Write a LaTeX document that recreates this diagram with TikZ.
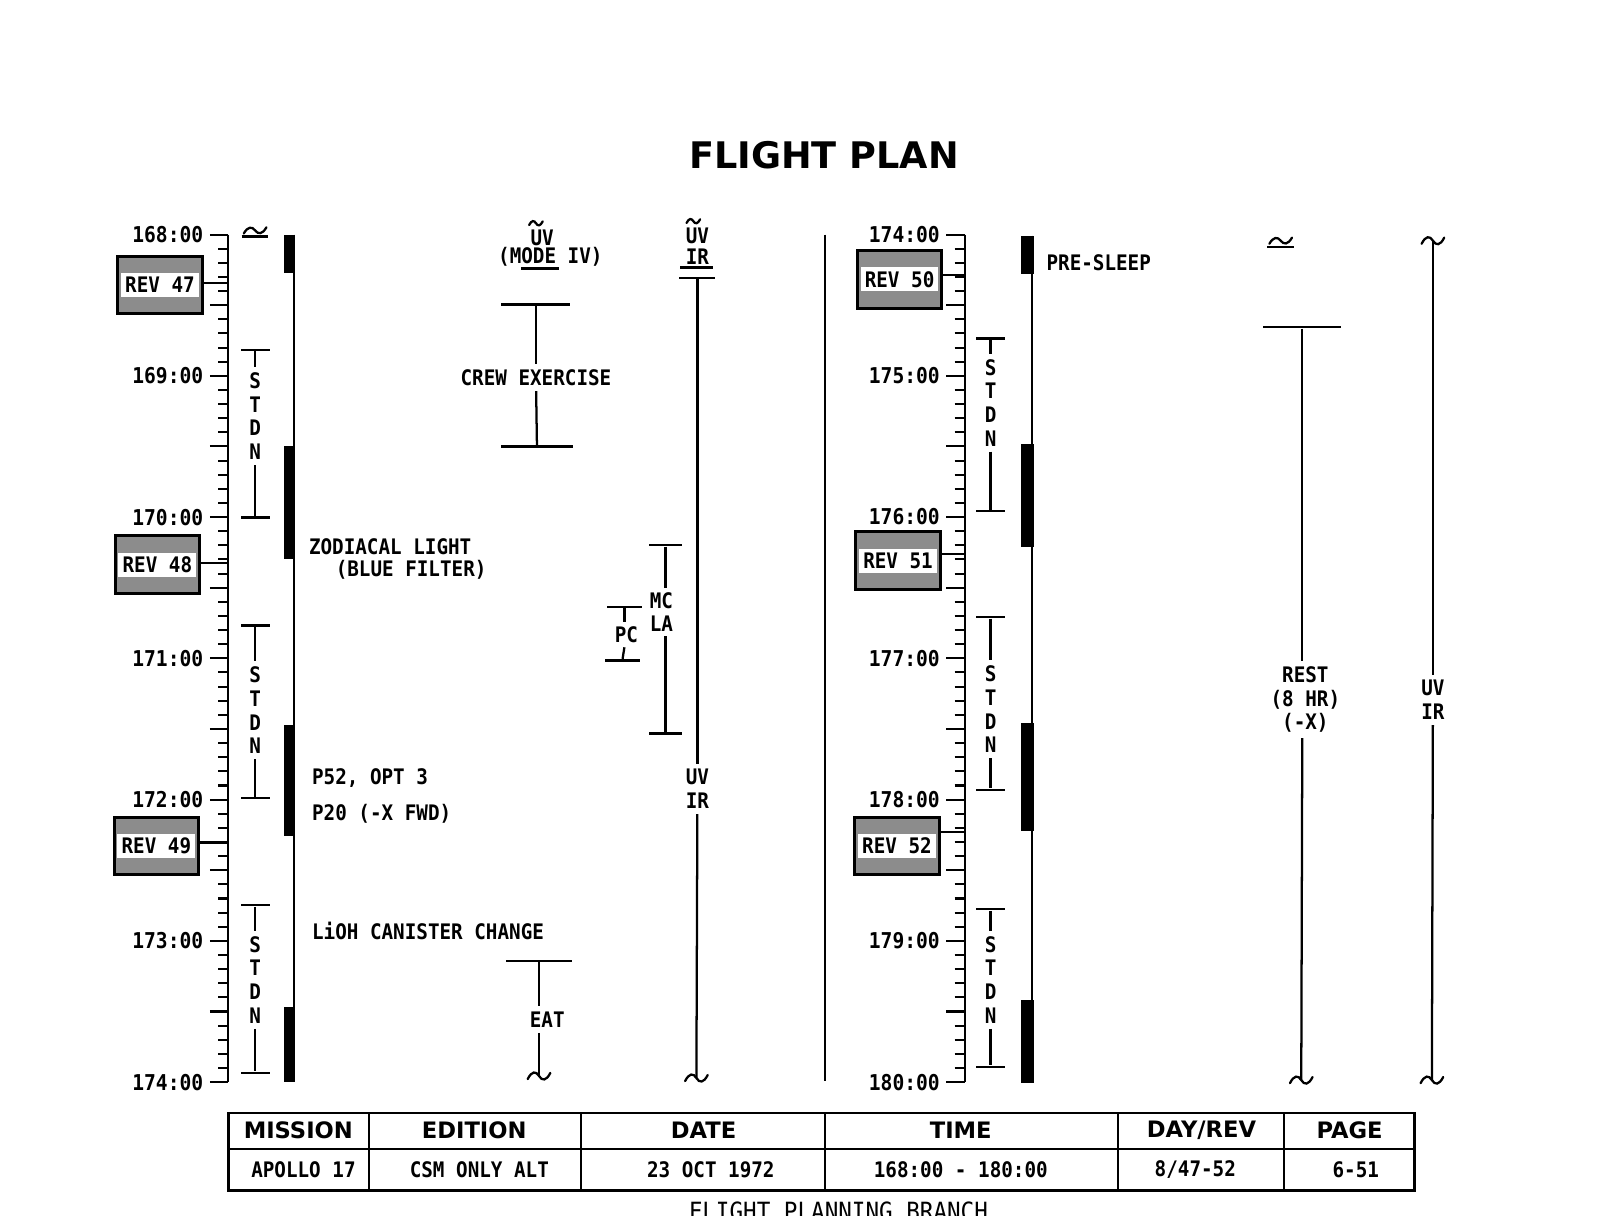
\documentclass[tikz,border=0pt]{standalone}
\usepackage{fontspec}
\setmonofont{DejaVu Sans Mono}[FakeStretch=0.9]
\newfontfamily\headfont{DejaVu Sans}
\setlength{\fboxsep}{2pt}

\tikzset{
  squig/.pic={\draw[line width=1.1pt,line cap=round]
    (-11,3) .. controls (-7,-5) and (-3,-5) .. (0,0) .. controls (3,5) and (7,5) .. (11,-3);},
  startmark/.pic={\draw[line width=1.1pt,line cap=round]
    (-11,1) .. controls (-7,-6) and (-3,-6) .. (0,-2) .. controls (3,2) and (7,2) .. (11,-5);
    \draw[line width=1.1pt] (-13,4) -- (13,4);}
}

\begin{document}
\begin{tikzpicture}[x=0.5pt,y=-0.5pt,
  every node/.style={font=\ttfamily\bfseries\fontsize{10.4}{11.5}\selectfont,inner sep=1pt},
  every edge/.append style={line width=1.1pt},
  axis/.style={line width=1pt},
  hour/.style={anchor=east,font=\ttfamily\bfseries\fontsize{10.6}{11.5}\selectfont},
  revbox/.style={draw,line width=1.5pt,fill=black!45,minimum width=41pt,minimum height=28pt,inner sep=0pt},
  endbar/.style={fill=black,minimum width=#1,minimum height=1.1pt,inner sep=0pt},
  stdn/.style={align=center,inner sep=2.5pt},
  act/.style={align=center,inner sep=2.5pt},
  note/.style={anchor=west},
  head/.style={font=\headfont\bfseries\fontsize{11}{13}\selectfont}]

  \useasboundingbox (0,0) rectangle (1570,1182);
  \clip (0,0) rectangle (1570,1182);
  \fill[white] (0,0) rectangle (1570,1182);

  \node[font=\headfont\bfseries\fontsize{17.8}{20}\selectfont] (title) at (801,151) {FLIGHT PLAN};

  % time scales, a tick every 6 min
  \foreach \ax in {222,938} {
    \draw[axis] (\ax,228) -- (\ax,1052);
    \foreach \k in {0,...,60}
      \draw[axis] (\ax-10,228+\k*13.733) -- (\ax,228+\k*13.733);
    \foreach \k in {0,5,...,60}
      \draw[axis] (\ax-18,228+\k*13.733) -- (\ax,228+\k*13.733);
  }
  \foreach \h [count=\i from 0] in {168,...,174}
    \node[hour] (l\h) at (200,228+\i*137.33) {\h:00};
  \foreach \h [count=\i from 0] in {174,...,180}
    \node[hour] (r\h) at (916,228+\i*137.33) {\h:00};

  % revolutions
  \node[revbox] (rev47) at (155.5,277) {\colorbox{white}{REV 47}};
  \node[revbox] (rev48) at (153,549) {\colorbox{white}{REV 48}};
  \node[revbox] (rev49) at (152,822.5) {\colorbox{white}{REV 49}};
  \node[revbox] (rev50) at (874.5,271.5) {\colorbox{white}{REV 50}};
  \node[revbox] (rev51) at (873,545) {\colorbox{white}{REV 51}};
  \node[revbox] (rev52) at (872,822.5) {\colorbox{white}{REV 52}};
  \coordinate (a47) at (222,275);
  \coordinate (a48) at (222,547);
  \coordinate (a49) at (222,819);
  \coordinate (a50) at (938,267);
  \coordinate (a51) at (938,539);
  \coordinate (a52) at (938,809);
  \draw[axis] (a47 -| rev47.east) -- (a47);
  \draw[axis] (a48 -| rev48.east) -- (a48);
  \draw[axis] (a49 -| rev49.east) -- (a49);
  \draw[axis] (a50 -| rev50.east) -- (a50);
  \draw[axis] (a51 -| rev51.east) -- (a51);
  \draw[axis] (a52 -| rev52.east) -- (a52);

  % day/night bars
  \draw[axis] (285.5,228) -- (285.5,1052);
  \fill (276,228) rectangle (287,265);
  \fill (276,434) rectangle (287,543);
  \fill (276,705) rectangle (287,813);
  \fill (276,979) rectangle (287,1052);
  \draw[axis] (1003.5,229) -- (1003.5,1053);
  \fill (993,229) rectangle (1005,266);
  \fill (993,432) rectangle (1005,532);
  \fill (993,703) rectangle (1005,808);
  \fill (993,972) rectangle (1005,1053);

  \draw[axis] (802,228) -- (802,1051);

  % STDN passes
  \pic at (248,226) {startmark};
  \node[endbar=14pt] (s1t) at (248,340) {};
  \node[stdn] (s1) at (248,404.5) {S\\T\\D\\N};
  \node[endbar=14pt] (s1b) at (248,503) {};
  \node[endbar=14pt] (s2t) at (248,608) {};
  \node[stdn] (s2) at (248,690.5) {S\\T\\D\\N};
  \node[endbar=14pt] (s2b) at (248,776) {};
  \node[endbar=14pt] (s3t) at (248,880) {};
  \node[stdn] (s3) at (248,952.5) {S\\T\\D\\N};
  \node[endbar=14pt] (s3b) at (248,1043) {};
  \node[endbar=14pt] (s4t) at (963,329) {};
  \node[stdn] (s4) at (963,391.5) {S\\T\\D\\N};
  \node[endbar=14pt] (s4b) at (963,497) {};
  \node[endbar=14pt] (s5t) at (963,600) {};
  \node[stdn] (s5) at (963,689.5) {S\\T\\D\\N};
  \node[endbar=14pt] (s5b) at (963,768) {};
  \node[endbar=14pt] (s6t) at (963,884) {};
  \node[stdn] (s6) at (963,952.5) {S\\T\\D\\N};
  \node[endbar=14pt] (s6b) at (963,1037) {};

  % notes
  \node[note] (zodi) at (298,531) {ZODIACAL LIGHT};
  \node[note] (blue) at (324,554) {(BLUE FILTER)};
  \node[note] (p52) at (301,756) {P52, OPT 3};
  \node[note] (p20) at (301,791) {P20 (-X FWD)};
  \node[note] (lioh) at (301,905) {LiOH CANISTER CHANGE};
  \node[note] (presleep) at (1015,255) {PRE-SLEEP};

  % experiments and crew activities
  \node (uv1) at (527,231) {UV};
  \pic[scale=.6] at (521,217) {squig};
  \node (mode) at (535,250) {(MODE IV)};
  \node[endbar=18.5pt] (modeend) at (524.5,261) {};
  \node[endbar=33.5pt] (crewt) at (521,296) {};
  \node[act] (crew) at (521,367) {CREW EXERCISE};
  \node[endbar=35pt] (crewb) at (522,434) {};
  \node[endbar=32pt] (eatt) at (524,934) {};
  \node[act] (eat) at (532,991) {EAT};
  \coordinate (eatb) at (524,1046);
  \pic at (eatb) {squig};

  \node[endbar=16pt] (mclat) at (647,530) {};
  \node[act,inner sep=2pt] (mcla) at (643,595) {MC\\LA};
  \node[endbar=16pt] (mclab) at (647,713) {};
  \node[endbar=17pt] (pct) at (607,590) {};
  \node[act,inner sep=2pt] (pc) at (609,617) {PC};
  \node[endbar=17pt] (pcb) at (605,642) {};

  \node (uv2) at (678,229) {UV};
  \pic[scale=.6] at (674,215) {squig};
  \node (ir2) at (678,250) {IR};
  \node[endbar=16pt] (irend) at (677,260) {};
  \node[endbar=17.5pt] (uvirt) at (678,270) {};
  \node[act] (uvir) at (678,767) {UV\\IR};
  \coordinate (uvirb) at (677,1048);
  \pic at (uvirb) {squig};

  \pic at (1245,236) {startmark};
  \node[endbar=38pt] (restt) at (1266,318) {};
  \node[act] (rest) at (1269,680) {REST\\(8 HR)\\(-X)};
  \coordinate (restb) at (1265,1050);
  \pic at (restb) {squig};

  \coordinate (fart) at (1393,234);
  \pic at (fart) {squig};
  \node[act] (faruvir) at (1393,680.5) {UV\\IR};
  \coordinate (farb) at (1392,1050);
  \pic at (farb) {squig};

  \path (s1t) edge (s1) (s1) edge (s1b)
        (s2t) edge (s2) (s2) edge (s2b)
        (s3t) edge (s3) (s3) edge (s3b)
        (s4t) edge (s4) (s4) edge (s4b)
        (s5t) edge (s5) (s5) edge (s5b)
        (s6t) edge (s6) (s6) edge (s6b)
        (crewt) edge (crew) (crew) edge (crewb)
        (eatt) edge (eatt |- eat.north) (eatt |- eat.south) edge (eatb)
        (mclat) edge (mclat |- mcla.north) (mclat |- mcla.south) edge (mclab)
        (pct) edge (pct |- pc.north) (pct |- pc.south) edge (pcb)
        (uvirt) edge (uvir) (uvir) edge (uvirb)
        (restt) edge (restt |- rest.north) (restt |- rest.south) edge (restb)
        (fart) edge (faruvir) (faruvir) edge (farb);

  % title block
  \draw[line width=1.4pt] (222,1082) rectangle (1375,1157);
  \draw[axis] (222,1117) -- (1375,1117);
  \foreach \x in {359,565,802,1087,1248}
    \draw[axis] (\x,1082) -- (\x,1157);
  \node[head] (hmission) at (290,1099) {MISSION};
  \node[head] (hedition) at (461,1099) {EDITION};
  \node[head] (hdate) at (684,1099) {DATE};
  \node[head] (htime) at (934,1099) {TIME};
  \node[head] (hdayrev) at (1168,1099) {DAY/REV};
  \node[head] (hpage) at (1312,1099) {PAGE};
  \node (mission) at (295,1137) {APOLLO 17};
  \node (edition) at (466,1137) {CSM ONLY ALT};
  \node (date) at (691,1137) {23 OCT 1972};
  \node (time) at (934,1137) {168:00 - 180:00};
  \node (dayrev) at (1162,1137) {8/47-52};
  \node (page) at (1318,1137) {6-51};
  \node[anchor=north,font=\ttfamily\fontsize{12.2}{14}\selectfont] (branch) at (815,1166) {FLIGHT PLANNING BRANCH};
\end{tikzpicture}
\end{document}
